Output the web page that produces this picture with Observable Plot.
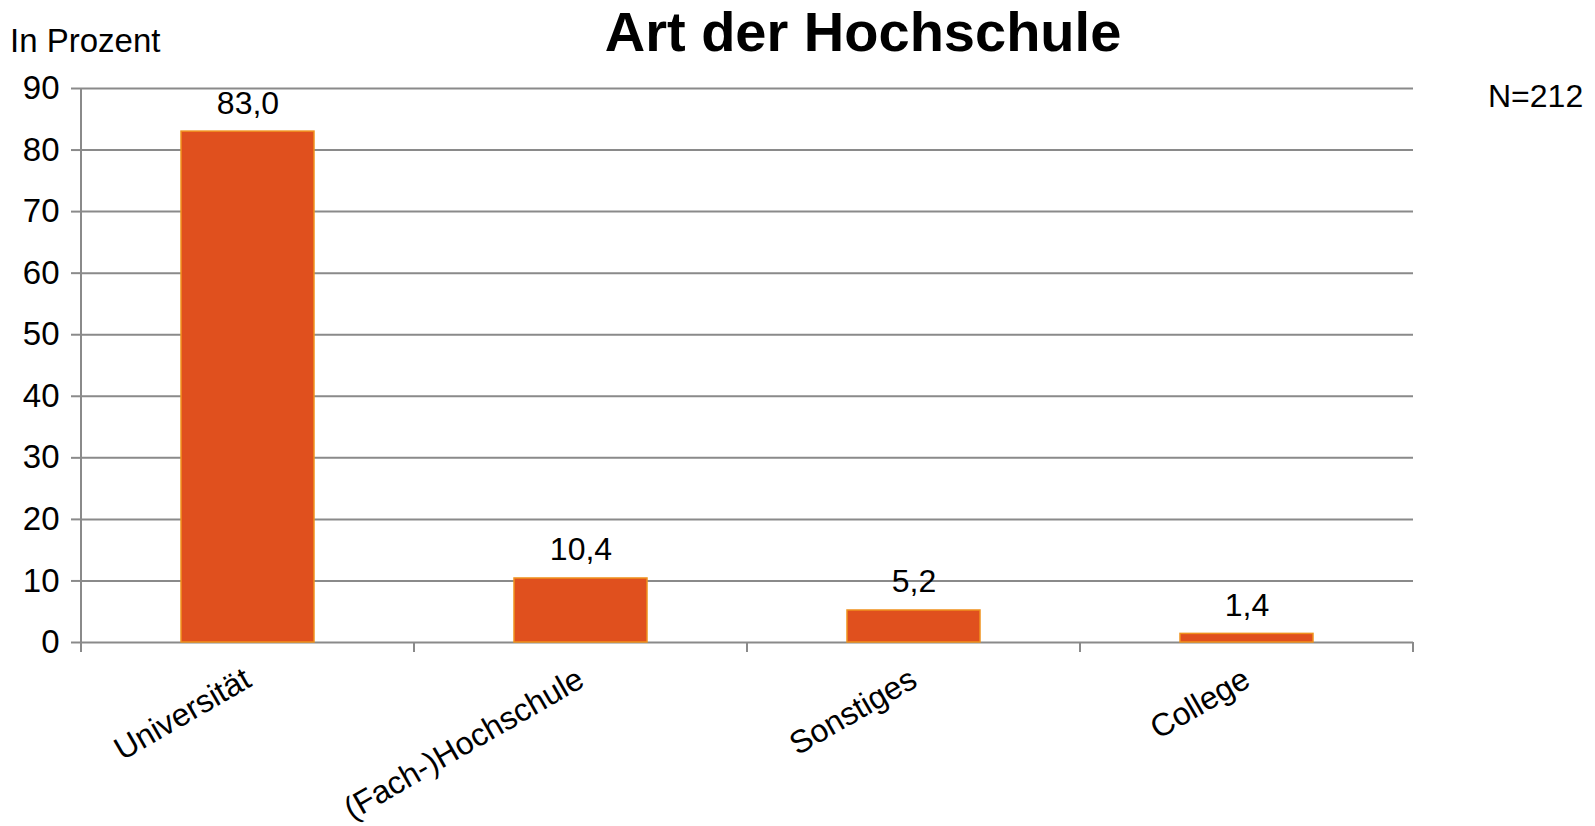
<!DOCTYPE html>
<html>
<head>
<meta charset="utf-8">
<script src="https://cdn.jsdelivr.net/npm/d3@7"></script>
<script src="https://cdn.jsdelivr.net/npm/@observablehq/plot@0.6"></script>
<style>
  html, body { margin: 0; padding: 0; background: white; }
  #wrap { position: relative; width: 1595px; height: 826px; font-family: "Liberation Sans", Arial, sans-serif; color: #000; }
  #wrap svg { position: absolute; left: 0; top: 0; }
  .lbl { position: absolute; line-height: 1; white-space: nowrap; }
  #title { left: 863px; top: 4px; transform: translateX(-50%); font-size: 56px; font-weight: bold; }
  #unit { left: 10px; top: 24px; font-size: 33px; }
  #n { left: 1488px; top: 80px; font-size: 32px; }
</style>
</head>
<body>
<div id="wrap">
  <div class="lbl" id="title">Art der Hochschule</div>
  <div class="lbl" id="unit">In Prozent</div>
  <div class="lbl" id="n">N=212</div>
</div>
<script>
const categories = ["Universität", "(Fach-)Hochschule", "Sonstiges", "College"];
const values = [83.0, 10.4, 5.2, 1.4];
const valueLabels = ["83,0", "10,4", "5,2", "1,4"];
const yTicks = [0, 10, 20, 30, 40, 50, 60, 70, 80, 90];

const data = categories.map((c, i) => ({category: c, value: values[i], label: valueLabels[i]}));

const gray = "#8a8a8a";
const chart = Plot.plot({
  width: 1595,
  height: 826,
  marginLeft: 81,
  marginRight: 182,
  marginTop: 88,
  marginBottom: 184,
  style: {fontFamily: "'Liberation Sans', Arial, sans-serif", fontSize: "32px", color: "#000", background: "transparent", overflow: "visible"},
  x: {domain: categories, paddingInner: 0.6, paddingOuter: 0.3, label: null},
  y: {domain: [0, 90], label: null},
  marks: [
    Plot.gridY(yTicks, {stroke: gray, strokeOpacity: 1, strokeWidth: 2}),
    Plot.axisY(yTicks, {tickSize: 10, tickPadding: 12, stroke: gray, strokeWidth: 2, fill: "#000", fontSize: 33, label: null}),
    Plot.barY(data, {x: "category", y: "value", fill: "#e0501e", stroke: "#f0921e", strokeWidth: 1.5}),
    Plot.text(data, {x: "category", y: "value", text: "label", dy: -18, lineAnchor: "bottom", fontSize: 32, fill: "#000"}),
    Plot.axisX({tickSize: 0, tickPadding: 34, tickRotate: -30, fontSize: 32, fill: "#000", label: null})
  ]
});

document.getElementById("wrap").appendChild(chart);

// Category boundary ticks and vertical axis line, derived from Plot's scales
const sx = chart.scale("x");
const sy = chart.scale("y");
const bx = d3.scaleBand().domain(sx.domain).range(sx.range)
  .paddingInner(sx.paddingInner).paddingOuter(sx.paddingOuter).align(sx.align ?? 0.5);
const ly = d3.scaleLinear().domain(sy.domain).range(sy.range);
const gap = (bx.step() - bx.bandwidth()) / 2;
const bounds = categories.map(c => bx(c) - gap).concat([bx(categories[categories.length - 1]) + bx.bandwidth() + gap]);
const svg = d3.select(chart);
const g = svg.append("g").attr("stroke", gray).attr("stroke-width", 2);
const y0 = ly(0), yTop = ly(90);
g.selectAll("line.tk").data(bounds).join("line")
  .attr("x1", d => d).attr("x2", d => d).attr("y1", y0).attr("y2", y0 + 10);
g.append("line").attr("x1", bounds[0]).attr("x2", bounds[0]).attr("y1", yTop).attr("y2", y0);
</script>
</body>
</html>
